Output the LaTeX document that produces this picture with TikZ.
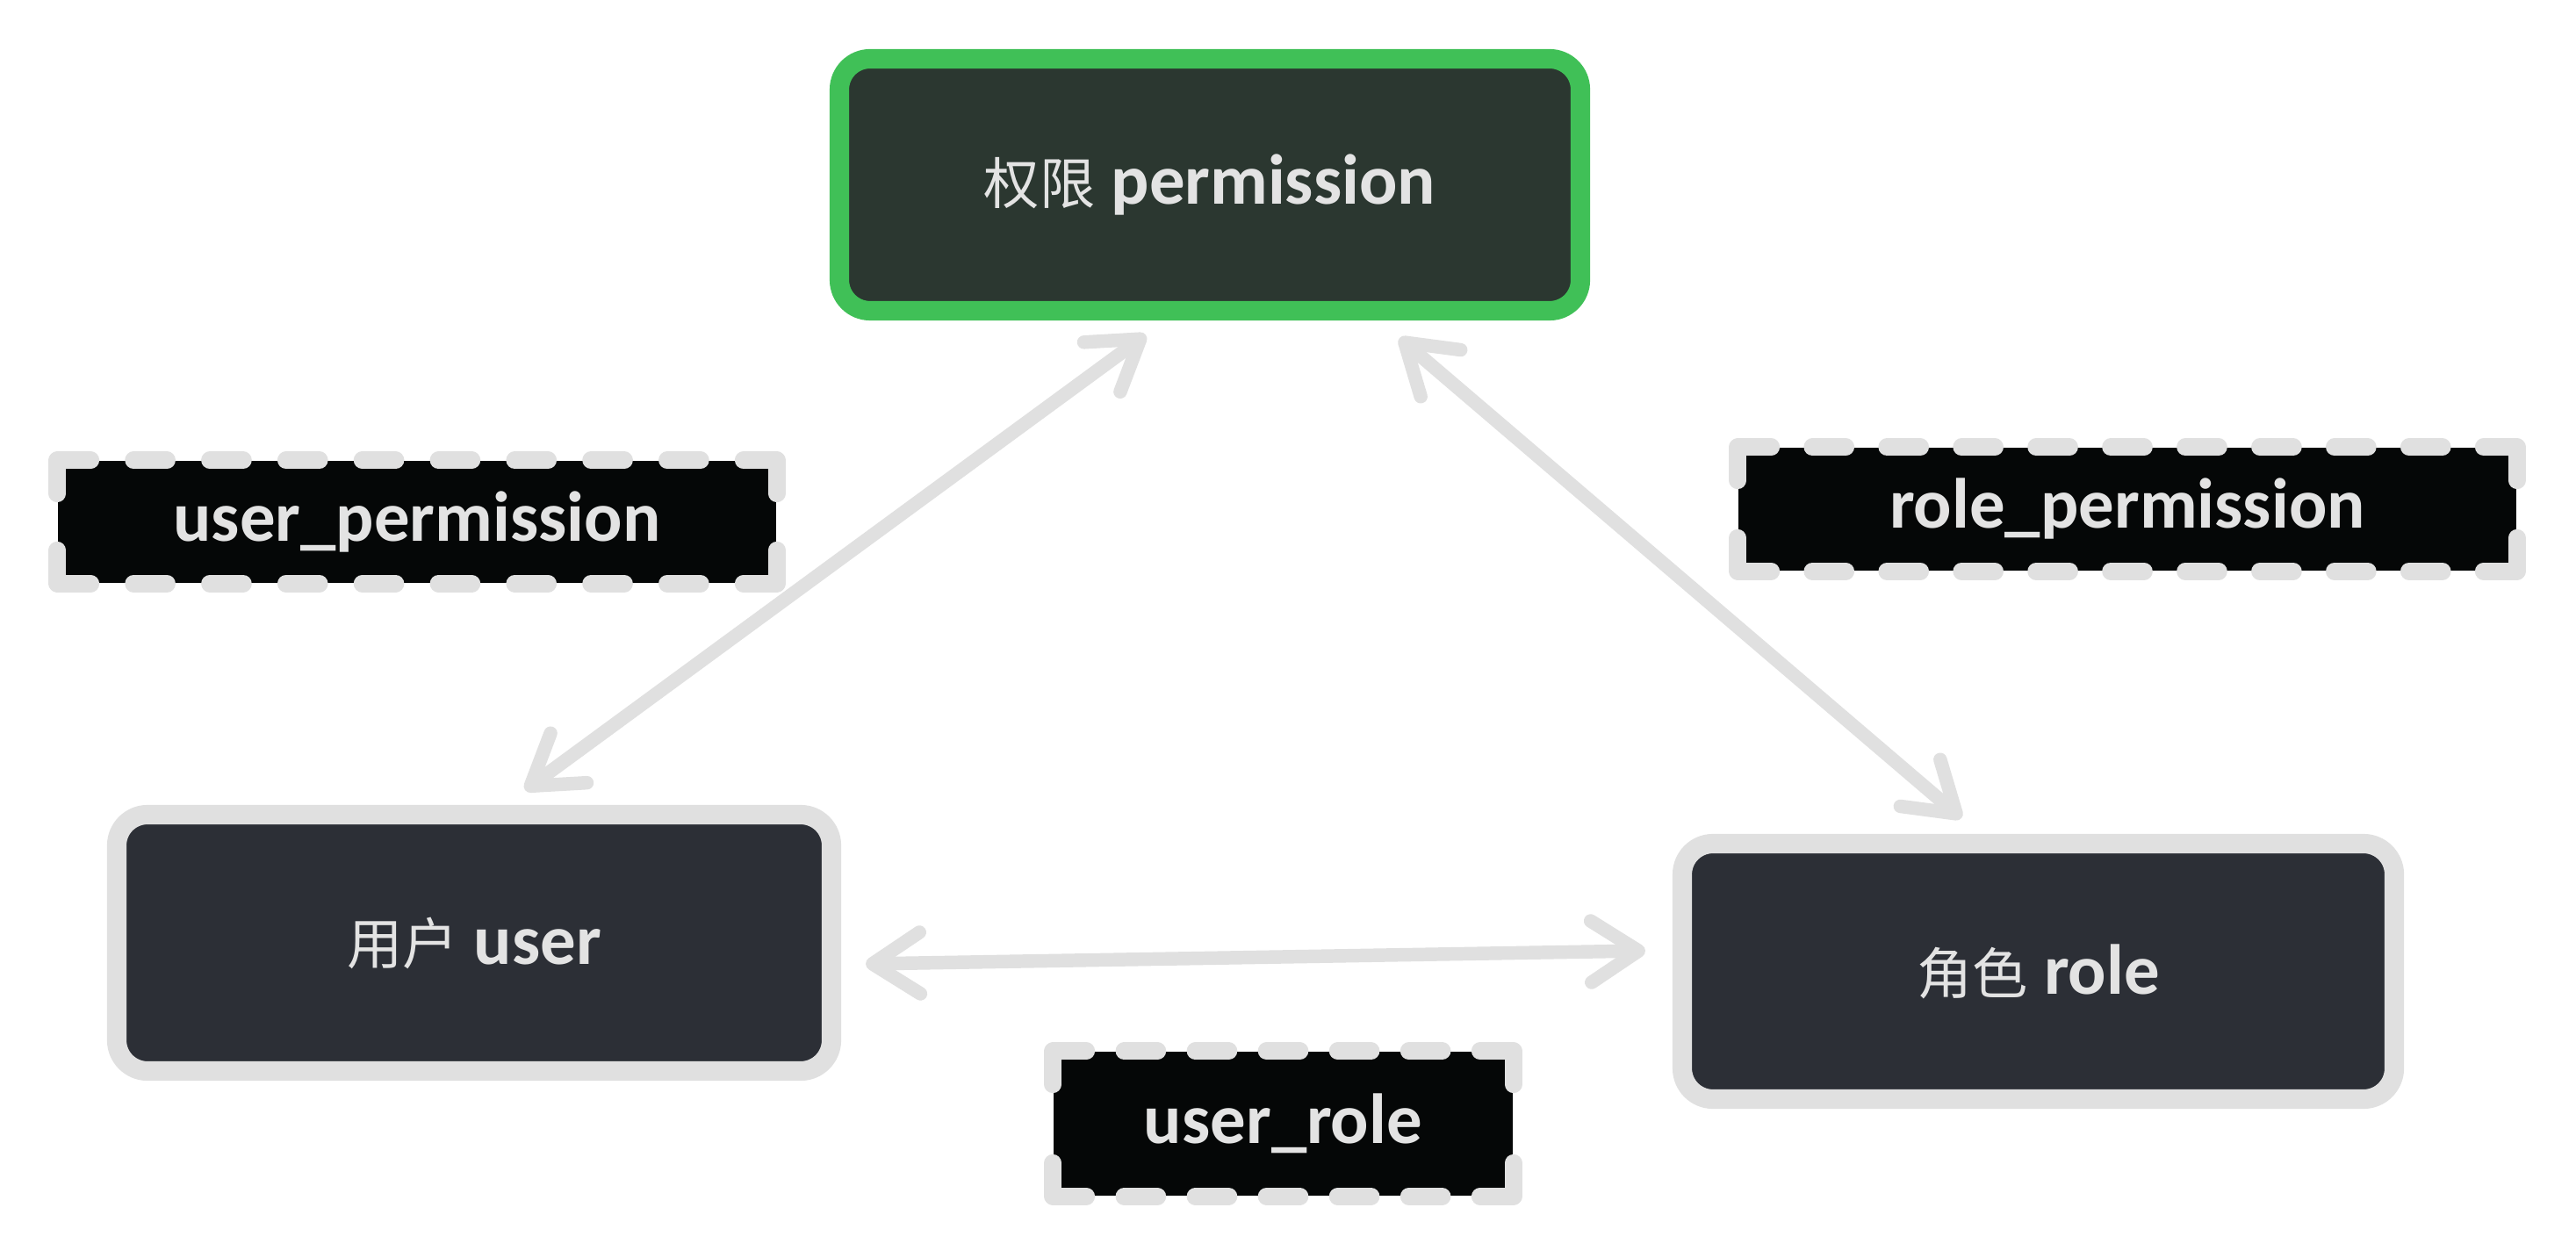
\documentclass[tikz,border=0pt]{standalone}
\usepackage{fontspec}
\setmainfont{Carlito}
\newfontfamily\cjk{Noto Sans CJK SC}
\usetikzlibrary{arrows.meta,positioning,calc}
\usepackage{xcolor}

\definecolor{edgeGray}{HTML}{E0E0E0}
\definecolor{okGreen}{HTML}{40C057}
\definecolor{permFill}{HTML}{2B3730}
\definecolor{entFill}{HTML}{2C2F36}
\definecolor{linkFill}{HTML}{050707}
\definecolor{txtGray}{HTML}{E3E3E3}

\newcommand{\zh}[1]{{\cjk\mdseries\fontsize{18}{22}\selectfont #1}}
% one side of a dashed frame: a dash sits on both corners, the gaps are stretched to fit
\newcommand{\dashSide}[2]{%
  \draw[dashEdge] let \p1=($(#2)-(#1)$), \n1={veclen(\x1,\y1)},
    \n2={max(2,round((\n1+5mm)/(8.8mm)))}, \n3={(\n1-\n2*3.8mm)/(\n2-1)} in
    [dash pattern=on 3.8mm off \n3] (#1) -- (#2);}

\begin{document}
\begin{tikzpicture}[
  font=\fontsize{23}{27}\selectfont\bfseries,
  entity/.style={draw=edgeGray, fill=entFill, line width=6.3pt, rounded corners=3.5mm, text=txtGray, inner sep=0pt},
  entityMain/.style={entity, draw=okGreen, fill=permFill},
  linkTable/.style={fill=linkFill, text=txtGray, inner sep=0pt},
  dashEdge/.style={draw=edgeGray, line width=5.6pt, line cap=round},
  arrow/.style={{Straight Barb[length=5.4mm, width=7mm, round]}-{Straight Barb[length=5.4mm, width=7mm, round]}, draw=edgeGray, line width=4.4pt, line cap=round},
]

\useasboundingbox[fill=white] (0,0) rectangle (29.34,-14.33);

% --- entities ---
\node[entityMain, minimum width=8.44cm, minimum height=2.87cm] (perm) at (13.78,-2.105) {\zh{权限} permission};
\node[entity, minimum width=8.14cm, minimum height=2.92cm] (user) at (5.40,-10.74) {\zh{用户} user};
\node[entity, minimum width=8.11cm, minimum height=2.91cm] (role) at (23.215,-11.065) {\zh{角色} role};

% --- link tables ---
\node[linkTable, minimum width=8.18cm, minimum height=1.39cm] (userPerm) at (4.75,-5.945) {user\_permission};
\node[linkTable, minimum width=8.86cm, minimum height=1.40cm] (rolePerm) at (24.23,-5.80) {role\_permission};
\node[linkTable, minimum width=5.23cm, minimum height=1.64cm] (userRole) at (14.615,-12.80) {user\_role};

\foreach \t in {userPerm,rolePerm,userRole} {
  \dashSide{\t.north west}{\t.north east}
  \dashSide{\t.north east}{\t.south east}
  \dashSide{\t.south east}{\t.south west}
  \dashSide{\t.south west}{\t.north west}
}

% --- relations ---
\draw[arrow] ([xshift=0.58cm,yshift=0.17cm]user.north) -- ([xshift=-0.73cm,yshift=-0.165cm]perm.south);
\draw[arrow] ([xshift=2.16cm,yshift=-0.20cm]perm.south) -- ([xshift=-0.875cm,yshift=0.18cm]role.north);
\draw[arrow] ([xshift=0.28cm,yshift=-0.24cm]user.east) -- ([xshift=-0.31cm,yshift=0.235cm]role.west);

\end{tikzpicture}
\end{document}
